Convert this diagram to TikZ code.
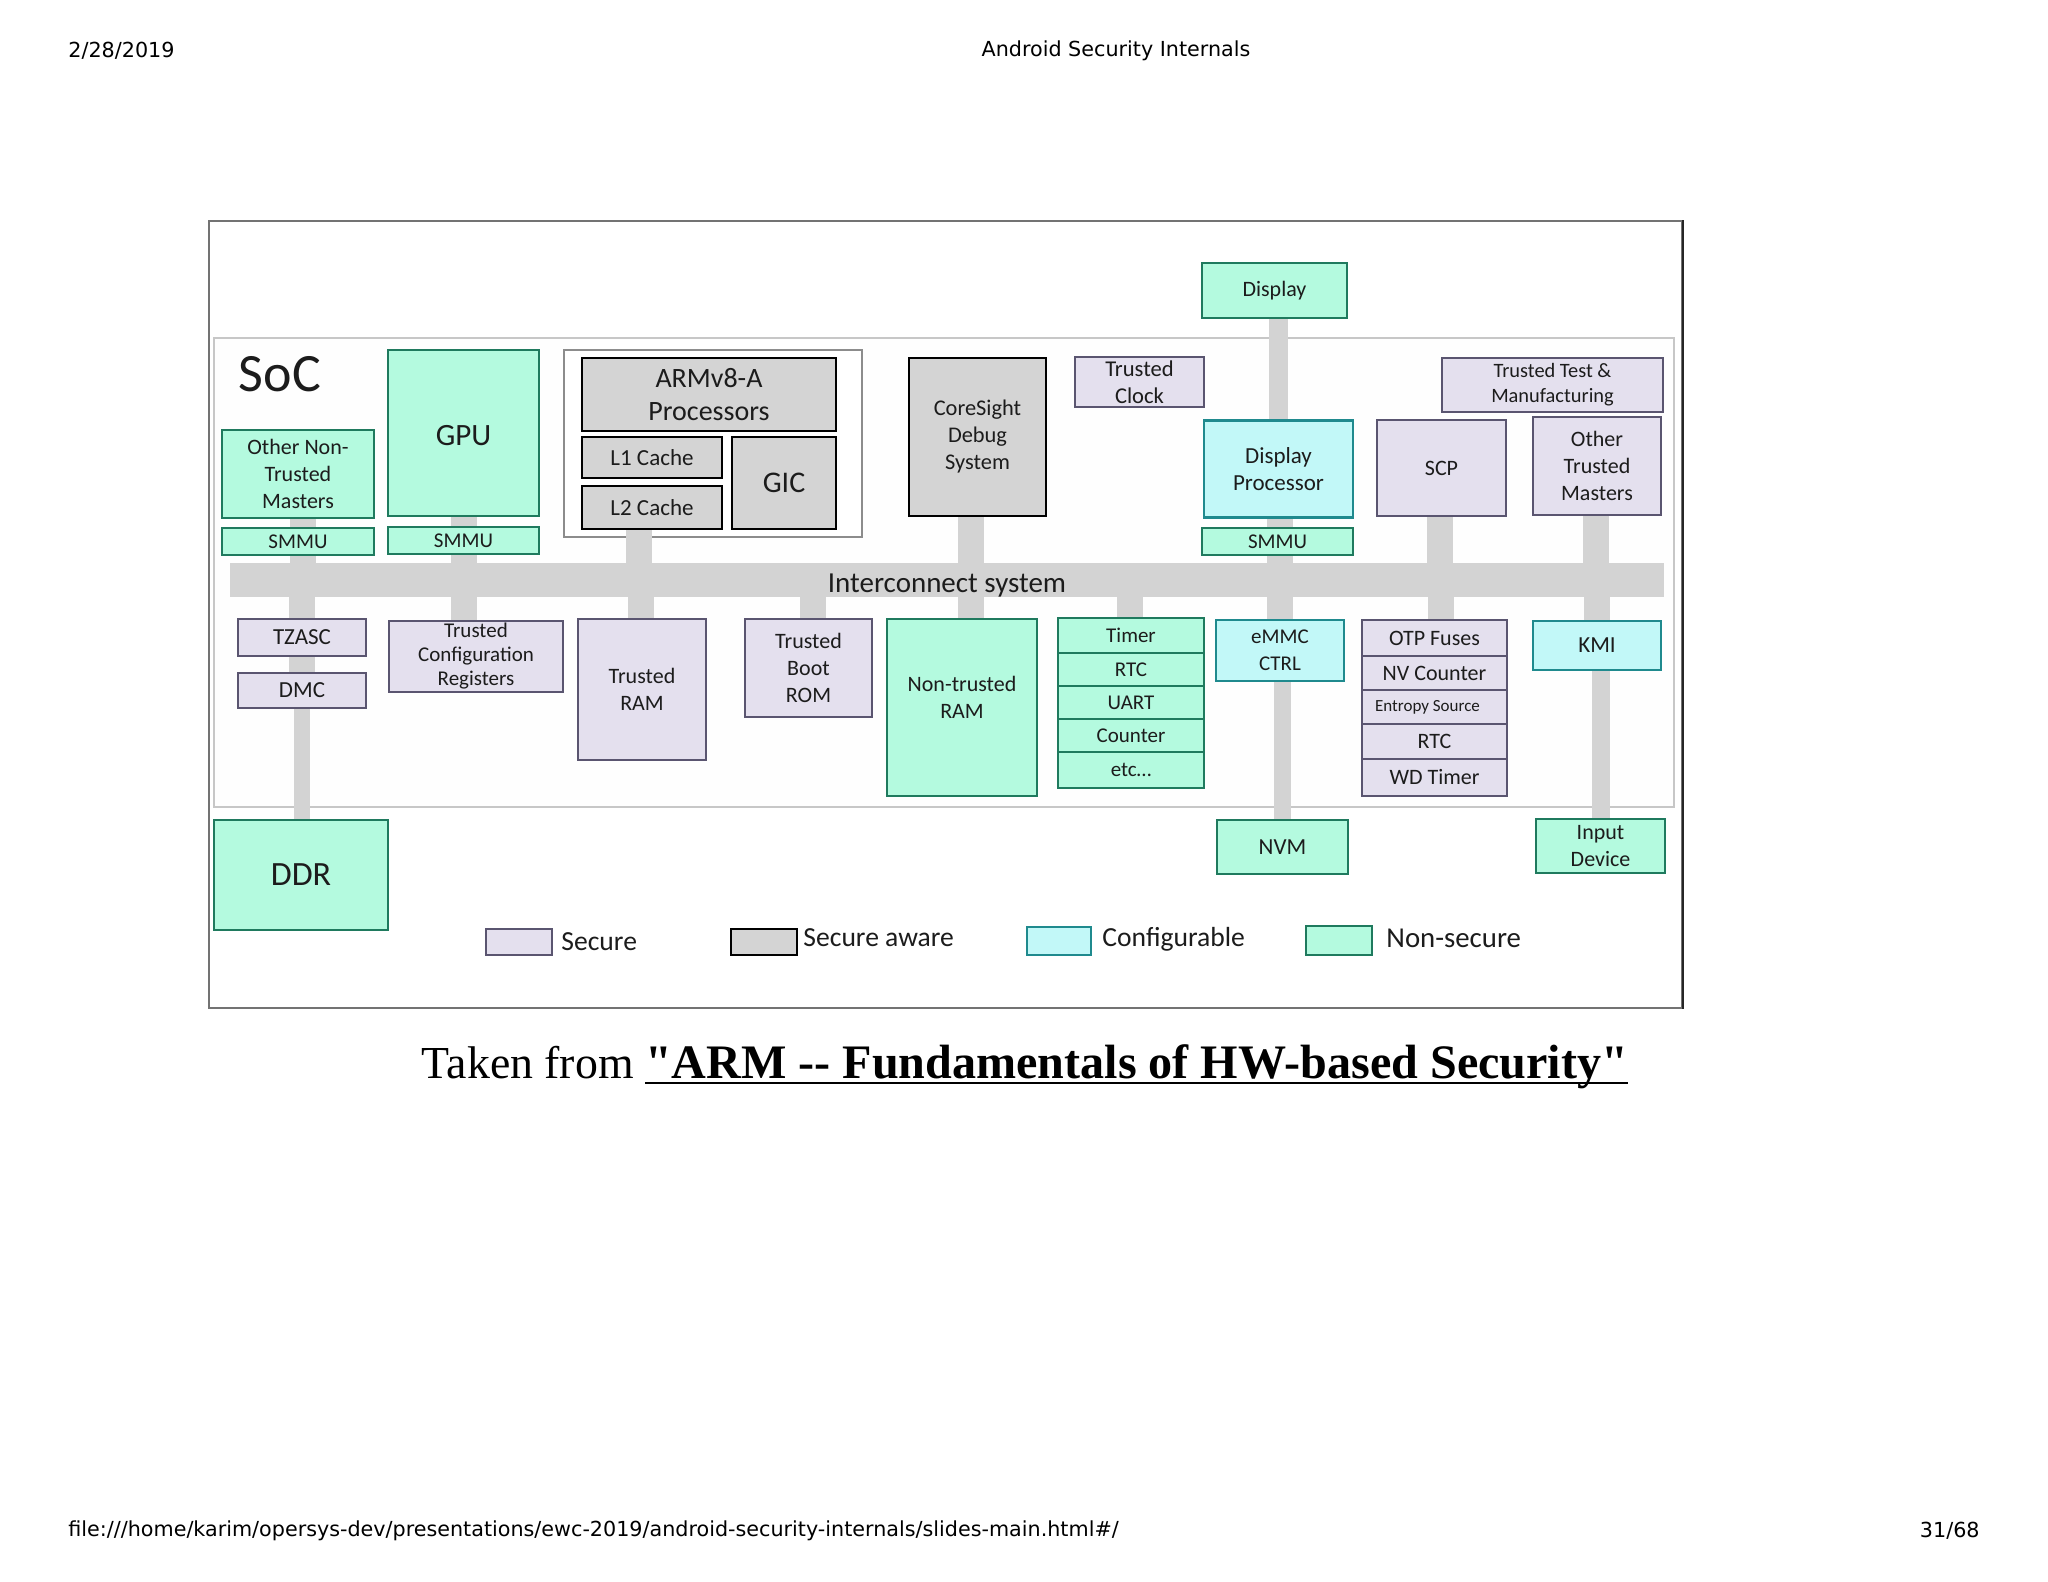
\documentclass[tikz,border=0pt]{standalone}
\usepackage{fontspec}
\setmainfont{Carlito}
\newfontfamily\headfont{DejaVu Sans}
\newfontfamily\capfont{Liberation Serif}
\usetikzlibrary{positioning,backgrounds}
\definecolor{securefill}{HTML}{E4E0EE}
\definecolor{secureline}{HTML}{5A5570}
\definecolor{awarefill}{HTML}{D4D4D4}
\definecolor{configfill}{HTML}{C2F8F8}
\definecolor{configline}{HTML}{1F8A8E}
\definecolor{nonsecfill}{HTML}{B4FADF}
\definecolor{nonsecline}{HTML}{1F7A5E}
\definecolor{busgray}{HTML}{D3D3D3}
\definecolor{inktext}{HTML}{1C1C1C}
\newcommand{\capunderline}[1]{\setbox0\hbox{#1}\rlap{\rule[-2.6pt]{\wd0}{1.1pt}}\box0}
\tikzset{
    %Define size of a box in pixels of the page
    wh/.style 2 args={
           minimum width=#1*0.5pt,
           minimum height=#2*0.5pt},
    txt/.style={
           font=\fontsize{#1}{14}\selectfont},
    %Define style for boxes
    basebox/.style={
           rectangle,
           line width=1.4pt,
           inner sep=0pt,
           outer sep=0pt,
           align=center,
           text=inktext,
           font=\fontsize{11}{13.5}\selectfont},
    secure/.style={
           basebox,
           draw=secureline,
           fill=securefill},
    secureaware/.style={
           basebox,
           draw=black,
           fill=awarefill},
    config/.style={
           basebox,
           draw=configline,
           fill=configfill},
    nonsec/.style={
           basebox,
           draw=nonsecline,
           fill=nonsecfill},
    legendtext/.style={
           inner sep=0pt,
           text=inktext,
           font=\fontsize{13.8}{16}\selectfont},
    pagetext/.style={
           inner sep=0pt,
           font=\headfont\fontsize{10.35}{12}\selectfont},
    % Define bus style
    bus/.style={
           draw=busgray,
           line width=13pt}
}
\begin{document}
\begin{tikzpicture}[x=0.5pt,y=-0.5pt,node distance=5.5pt]
\useasboundingbox (0,0) rectangle (2048,1582);
\begin{scope}[on background layer]
\node[draw=black!55, line width=0.9pt, fill=white, wh={1473}{787}](frame) at (945.5,614.5){};
\draw[black!85, line width=1.1pt] (frame.north east) -- (frame.south east);
\node[draw=black!22, line width=0.7pt, fill=black!0.5, wh={1460}{469}](soc) at (944,572.5){};
\node[draw=black!45, line width=0.6pt, fill=white, wh={298}{187}](cpugroup) at (713,443.5){};
\end{scope}
\node[pagetext, anchor=west](date) at (68,51){2/28/2019};
\node[pagetext](title) at (1116,51){Android Security Internals};
\node[pagetext, anchor=west](url) at (68,1531){file:///home/karim/opersys-dev/presentations/ewc-2019/android-security-internals/slides-main.html\#/};
\node[pagetext, anchor=east](pagenum) at (1980,1531){31/68};
\node[inner sep=0pt, font=\capfont\fontsize{22.9}{28}\selectfont](caption) at (1025,1067){Taken from \capunderline{\fontsize{24.05}{28}\selectfont\textbf{"ARM -- Fundamentals of HW-based Security"}}};
\node[inner sep=0pt, text=inktext, font=\fontsize{27}{32}\selectfont](soclabel) at (280,374){SoC};
% upper row
\node[nonsec, wh={152}{88}](othernon) at (298,474){Other Non-\\Trusted\\Masters};
\node[nonsec, txt=10.5, wh={152}{27}, below=5pt of othernon](smmua){SMMU};
\node[nonsec, txt=15.5, text height=13pt, wh={151}{166}](gpu) at (463.5,433){GPU};
\node[nonsec, txt=10.5, wh={151}{27}, below=of gpu](smmub){SMMU};
\node[secureaware, font=\fontsize{14}{16.5}\selectfont, wh={254}{73}](arm) at (709,394.5){ARMv8-A\\Processors};
\node[secureaware, txt=11.5, wh={140}{41}](lone) at (652,457.5){L1 Cache};
\node[secureaware, txt=11.5, wh={140}{43}](ltwo) at (652,507.5){L2 Cache};
\node[secureaware, txt=15, wh={104}{92}](gic) at (784,483){GIC};
\node[secureaware, font=\fontsize{11.2}{13.5}\selectfont, wh={137}{158}](coresight) at (977.5,437){CoreSight\\Debug\\System};
\node[secure, font=\fontsize{11.3}{13.5}\selectfont, wh={129}{50}](clock) at (1139.5,382){Trusted\\Clock};
\node[nonsec, wh={145}{55}](display) at (1274.5,290.5){Display};
\node[config, font=\fontsize{11.5}{13.5}\selectfont, wh={149}{97}](dispproc) at (1278.5,469){Display\\Processor};
\node[nonsec, txt=10.5, wh={151}{27}](smmuc) at (1277.5,541.5){SMMU};
\node[secure, wh={129}{96}](scp) at (1441.5,468){SCP};
\node[secure, font=\fontsize{10.2}{12.5}\selectfont, wh={221}{54}](testmfg) at (1552.5,385){Trusted Test \&\\Manufacturing};
\node[secure, wh={128}{98}](othertrust) at (1597,466){Other\\Trusted\\Masters};
\node[draw=none, fill=busgray, inner sep=0pt, outer sep=0pt, wh={1434}{34}](bar) at (947,580){};
\node[inner sep=0pt, text=inktext, font=\fontsize{14.5}{16}\selectfont](barlabel) at (947,586){Interconnect system};
% lower row
\node[secure, txt=11.5, wh={128}{37}](tzasc) at (302,637.5){TZASC};
\node[secure, txt=11.5, wh={128}{35}](dmc) at (302,690.5){DMC};
\node[secure, font=\fontsize{10.5}{12}\selectfont, wh={174}{71}](trustcfg) at (476,656.5){Trusted\\Configuration\\Registers};
\node[secure, wh={128}{141}](tram) at (642,689.5){Trusted\\RAM};
\node[secure, wh={127}{98}](tboot) at (808.5,668){Trusted\\Boot\\ROM};
\node[nonsec, wh={150}{177}](ntram) at (962,707.5){Non-trusted\\RAM\\[-3pt]};
\node[nonsec, txt=10.5, wh={146}{35}](timer) at (1131,635.5){Timer};
\node[nonsec, txt=10.5, wh={146}{33}, below=0pt of timer](rtca){RTC};
\node[nonsec, txt=10.5, wh={146}{33}, below=0pt of rtca](uart){UART};
\node[nonsec, txt=10.5, wh={146}{33}, below=0pt of uart](counter){Counter};
\node[nonsec, txt=10.5, wh={146}{36}, below=0pt of counter](etc){etc\dots};
\node[config, font=\fontsize{10.5}{13.5}\selectfont, wh={128}{61}](emmc) at (1280,650.5){eMMC\\CTRL};
\node[secure, wh={145}{36}](otp) at (1434.5,638){OTP Fuses};
\node[secure, wh={145}{34}, below=0pt of otp](nvcount){NV Counter};
\node[secure, txt=8.5, wh={145}{34}, below=0pt of nvcount](entropy){Entropy Source\hspace*{7pt}};
\node[secure, wh={145}{35}, below=0pt of entropy](rtcb){RTC};
\node[secure, wh={145}{37}, below=0pt of rtcb](wdtimer){WD Timer};
\node[config, txt=11.5, wh={128}{49}](kmi) at (1597,645.5){KMI};
% outside the SoC
\node[nonsec, txt=17, wh={174}{110}](ddr) at (301,875){DDR};
\node[nonsec, txt=11.5, wh={131}{54}](nvm) at (1282.5,847){NVM};
\node[nonsec, wh={129}{54}](input) at (1600.5,846){Input\\Device};
% legend
\node[secure, wh={66}{26}](legsecure) at (519,942){};
\node[legendtext, right=4.5pt of legsecure](legsecuretext){Secure};
\node[secureaware, wh={66}{26}](legaware) at (764,942){};
\node[legendtext, right=3pt of legaware, yshift=2pt](legawaretext){Secure aware};
\node[config, wh={64}{28}](legconfig) at (1059,941){};
\node[legendtext, right=5.5pt of legconfig, yshift=0.8pt](legconfigtext){Configurable};
\node[nonsec, wh={66}{29}](legnonsec) at (1339,940.5){};
\node[legendtext, font=\fontsize{14.4}{16}\selectfont, right=7pt of legnonsec, yshift=1.3pt](legnonsectext){Non-secure};
% bus stubs
\begin{scope}[on background layer]
\foreach \x/\n in {303/othernon,463.5/gpu,639/ltwo,971/coresight,1280/dispproc,1440/scp,1596/othertrust}{
	\coordinate (tap) at (\x,580);
	\draw[bus] (tap) -- (tap |- \n.south);
}
\foreach \x/\n in {302/dmc,463.5/trustcfg,640.5/tram,812.5/tboot,971/ntram,1130/timer,1280/emmc,1441/otp,1597/kmi}{
	\coordinate (tap) at (\x,580);
	\draw[bus] (tap) -- (tap |- \n.north);
}
\draw[bus, line width=9.5pt] (dispproc) -- (dispproc |- display);
\draw[bus, line width=8pt] (dmc) -- (dmc |- ddr);
\draw[bus, line width=8.5pt] (nvm) -- (nvm |- emmc);
\draw[bus, line width=9pt] (input) -- (input |- kmi);
\end{scope}
\end{tikzpicture}
\end{document}
